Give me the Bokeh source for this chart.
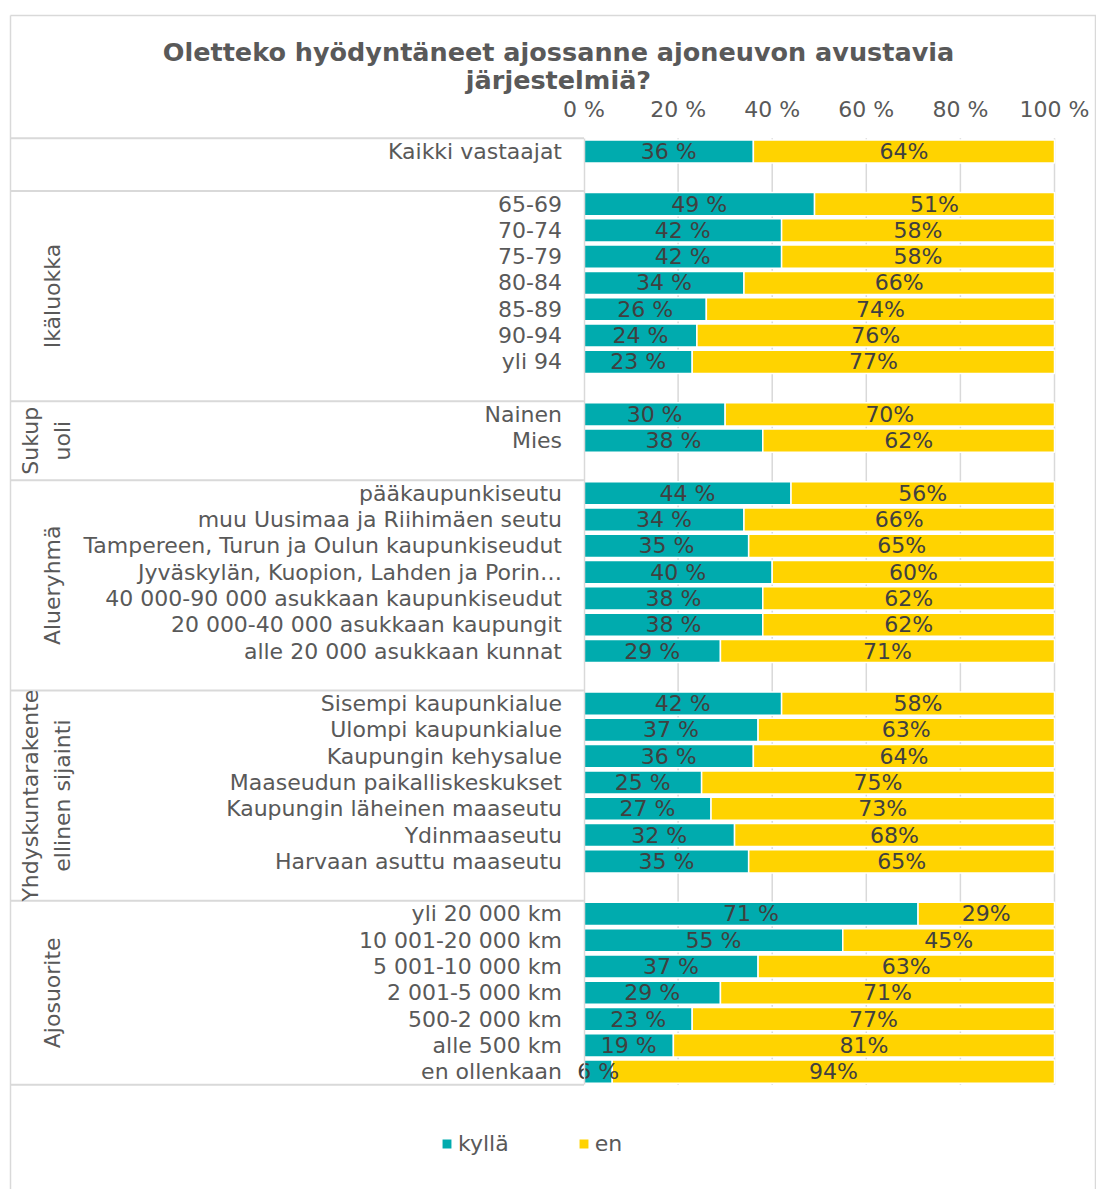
from math import pi
from bokeh.plotting import figure
from bokeh.models import Range1d, LinearAxis, FixedTicker, Legend, LegendItem, ColumnDataSource
from bokeh.core.properties import value
from bokeh.embed import file_html
from bokeh.resources import INLINE

# ---------------- data ----------------
title_lines = ["Oletteko hyödyntäneet ajossanne ajoneuvon avustavia", "järjestelmiä?"]
series_names = ["kyllä", "en"]
tick_values = [0, 20, 40, 60, 80, 100]
tick_labels = ["0 %", "20 %", "40 %", "60 %", "80 %", "100 %"]

group_names = ["", "Ikäluokka", "Sukup\nuoli", "Alueryhmä",
               "Yhdyskuntarakente\nellinen sijainti", "Ajosuorite"]

cats_all = ["Kaikki vastaajat"]
kylla_all = [36]
en_all = [64]

cats_age = ["65-69", "70-74", "75-79", "80-84", "85-89", "90-94", "yli 94"]
kylla_age = [49, 42, 42, 34, 26, 24, 23]
en_age = [51, 58, 58, 66, 74, 76, 77]

cats_sex = ["Nainen", "Mies"]
kylla_sex = [30, 38]
en_sex = [70, 62]

cats_area = ["pääkaupunkiseutu", "muu Uusimaa ja Riihimäen seutu",
             "Tampereen, Turun ja Oulun kaupunkiseudut",
             "Jyväskylän, Kuopion, Lahden ja Porin…",
             "40 000-90 000 asukkaan kaupunkiseudut",
             "20 000-40 000 asukkaan kaupungit",
             "alle 20 000 asukkaan kunnat"]
kylla_area = [44, 34, 35, 40, 38, 38, 29]
en_area = [56, 66, 65, 60, 62, 62, 71]

cats_zone = ["Sisempi kaupunkialue", "Ulompi kaupunkialue", "Kaupungin kehysalue",
             "Maaseudun paikalliskeskukset", "Kaupungin läheinen maaseutu",
             "Ydinmaaseutu", "Harvaan asuttu maaseutu"]
kylla_zone = [42, 37, 36, 25, 27, 32, 35]
en_zone = [58, 63, 64, 75, 73, 68, 65]

cats_km = ["yli 20 000 km", "10 001-20 000 km", "5 001-10 000 km", "2 001-5 000 km",
           "500-2 000 km", "alle 500 km", "en ollenkaan"]
kylla_km = [71, 55, 37, 29, 23, 19, 6]
en_km = [29, 45, 63, 71, 77, 81, 94]

groups = [
    (cats_all, kylla_all, en_all),
    (cats_age, kylla_age, en_age),
    (cats_sex, kylla_sex, en_sex),
    (cats_area, kylla_area, en_area),
    (cats_zone, kylla_zone, en_zone),
    (cats_km, kylla_km, en_km),
]

# ---------------- styling / layout ----------------
W, H = 1096, 1189
TEAL = "#00ABAE"
YELLOW = "#FFD300"
GRID = "#D9D9D9"
TXT = "#595959"
LBL = "#404040"
FONT = "DejaVu Sans"
FS = "22px"

X0_PX, X100_PX = 583.5, 1054.0
PXPU = (X100_PX - X0_PX) / 100.0
ROW0_PX, ROW_PX = 151.0, 26.29


def xd(px):
    return (px - X0_PX) / PXPU


def yd(py):
    return (py - ROW0_PX) / ROW_PX


# row positions
rows_y, rows_cat, rows_k, rows_e = [], [], [], []
seps = []
gcenters = []
r = 0
for gi, (cats, ks, es) in enumerate(groups):
    start = r
    seps.append(start - 0.5)
    for c, k, e in zip(cats, ks, es):
        rows_y.append(r)
        rows_cat.append(c)
        rows_k.append(k)
        rows_e.append(e)
        r += 1
    if gi < len(groups) - 1:
        r += 1  # blank row after group
    end = r - 0.5
    gcenters.append((start - 0.5 + end) / 2.0)
last_row = rows_y[-1]
seps.append(last_row + 0.5)
top_b, bot_b = -0.5, last_row + 0.5

p = figure(width=W, height=H, x_range=Range1d(xd(0), xd(W)), y_range=Range1d(yd(H), yd(0)),
           x_axis_type=None, y_axis_type=None, toolbar_location=None,
           output_backend="svg", min_border=0, min_border_left=0, min_border_right=0,
           min_border_top=0, min_border_bottom=0)
p.outline_line_color = None
p.background_fill_color = "white"
p.border_fill_color = "white"
p.xgrid.visible = False
p.ygrid.visible = False

# outer chart border
p.segment(x0=[xd(10), xd(10), xd(1095)], y0=[yd(15), yd(15), yd(15)],
          x1=[xd(1100), xd(10), xd(1095)], y1=[yd(15), yd(1195), yd(1195)],
          line_color=GRID, line_width=1.5)

# vertical gridlines inside plot area
p.segment(x0=tick_values[1:], x1=tick_values[1:], y0=[top_b] * 5, y1=[bot_b] * 5,
          line_color=GRID, line_width=1.5)

# group separators in label area
p.segment(x0=[xd(10)] * len(seps), x1=[0] * len(seps), y0=seps, y1=seps,
          line_color=GRID, line_width=2)

src = ColumnDataSource(dict(y=rows_y, cat=rows_cat, k=rows_k, e=rows_e,
                            kend=[k for k in rows_k],
                            eend=[k + e for k, e in zip(rows_k, rows_e)],
                            kmid=[k / 2.0 for k in rows_k],
                            emid=[k + e / 2.0 for k, e in zip(rows_k, rows_e)],
                            klab=[f"{k} %" for k in rows_k],
                            elab=[f"{e}%" for e in rows_e]))

rk = p.hbar(y="y", left=0, right="kend", height=0.88, source=src,
            fill_color=TEAL, line_color="white", line_width=1.5)
re_ = p.hbar(y="y", left="kend", right="eend", height=0.88, source=src,
             fill_color=YELLOW, line_color="white", line_width=1.5)

p.text(x="kmid", y="y", text="klab", source=src, text_align="center", text_baseline="middle",
       text_font=value(FONT), text_font_size=FS, text_color=LBL)
p.text(x="emid", y="y", text="elab", source=src, text_align="center", text_baseline="middle",
       text_font=value(FONT), text_font_size=FS, text_color=LBL)

# category axis (left, fixed at 0 %)
yaxis = LinearAxis(fixed_location=0, ticker=FixedTicker(ticks=rows_y),
                   major_label_overrides={y: c for y, c in zip(rows_y, rows_cat)},
                   bounds=(top_b, bot_b))
yaxis.axis_line_color = GRID
yaxis.axis_line_width = 1.5
yaxis.major_tick_line_color = None
yaxis.major_tick_out = 0
yaxis.major_tick_in = 0
yaxis.minor_tick_line_color = None
yaxis.major_label_standoff = 22
yaxis.major_label_text_font = FONT
yaxis.major_label_text_font_size = FS
yaxis.major_label_text_color = TXT
p.add_layout(yaxis, "left")

# value axis (top)
xaxis = LinearAxis(fixed_location=yd(121), ticker=FixedTicker(ticks=tick_values),
                   major_label_overrides={v: t for v, t in zip(tick_values, tick_labels)})
xaxis.axis_line_color = None
xaxis.major_tick_line_color = None
xaxis.major_tick_out = 0
xaxis.major_tick_in = 0
xaxis.minor_tick_line_color = None
xaxis.major_label_standoff = 0
xaxis.major_label_text_font = FONT
xaxis.major_label_text_font_size = FS
xaxis.major_label_text_color = TXT
p.add_layout(xaxis, "above")

# group labels (rotated)
gl_names = [g for g in group_names if g]
gl_y = [c for g, c in zip(group_names, gcenters) if g]
gl_x = [xd(52 - 6 * g.count("\n")) for g in gl_names]
p.text(x=gl_x, y=gl_y, text=gl_names, angle=pi / 2,
       text_align="center", text_baseline="middle", text_font=value(FONT),
       text_font_size=FS, text_color=TXT, text_line_height=1.3)

# title
p.text(x=[xd(558)] * 2, y=[yd(51), yd(79)], text=title_lines, text_align="center",
       text_baseline="middle", text_font=value(FONT), text_font_size="25.5px",
       text_font_style="bold", text_color=TXT)

legend = Legend(items=[LegendItem(label=series_names[0], renderers=[rk]),
                       LegendItem(label=series_names[1], renderers=[re_])],
                orientation="horizontal", location=(440, 33),
                glyph_width=13, glyph_height=13, label_standoff=5, spacing=68,
                padding=0, margin=0, border_line_color=None, background_fill_alpha=0,
                label_text_font=FONT, label_text_font_size=FS, label_text_color=TXT)
p.add_layout(legend)

open("out.html", "w").write(file_html(p, INLINE))
